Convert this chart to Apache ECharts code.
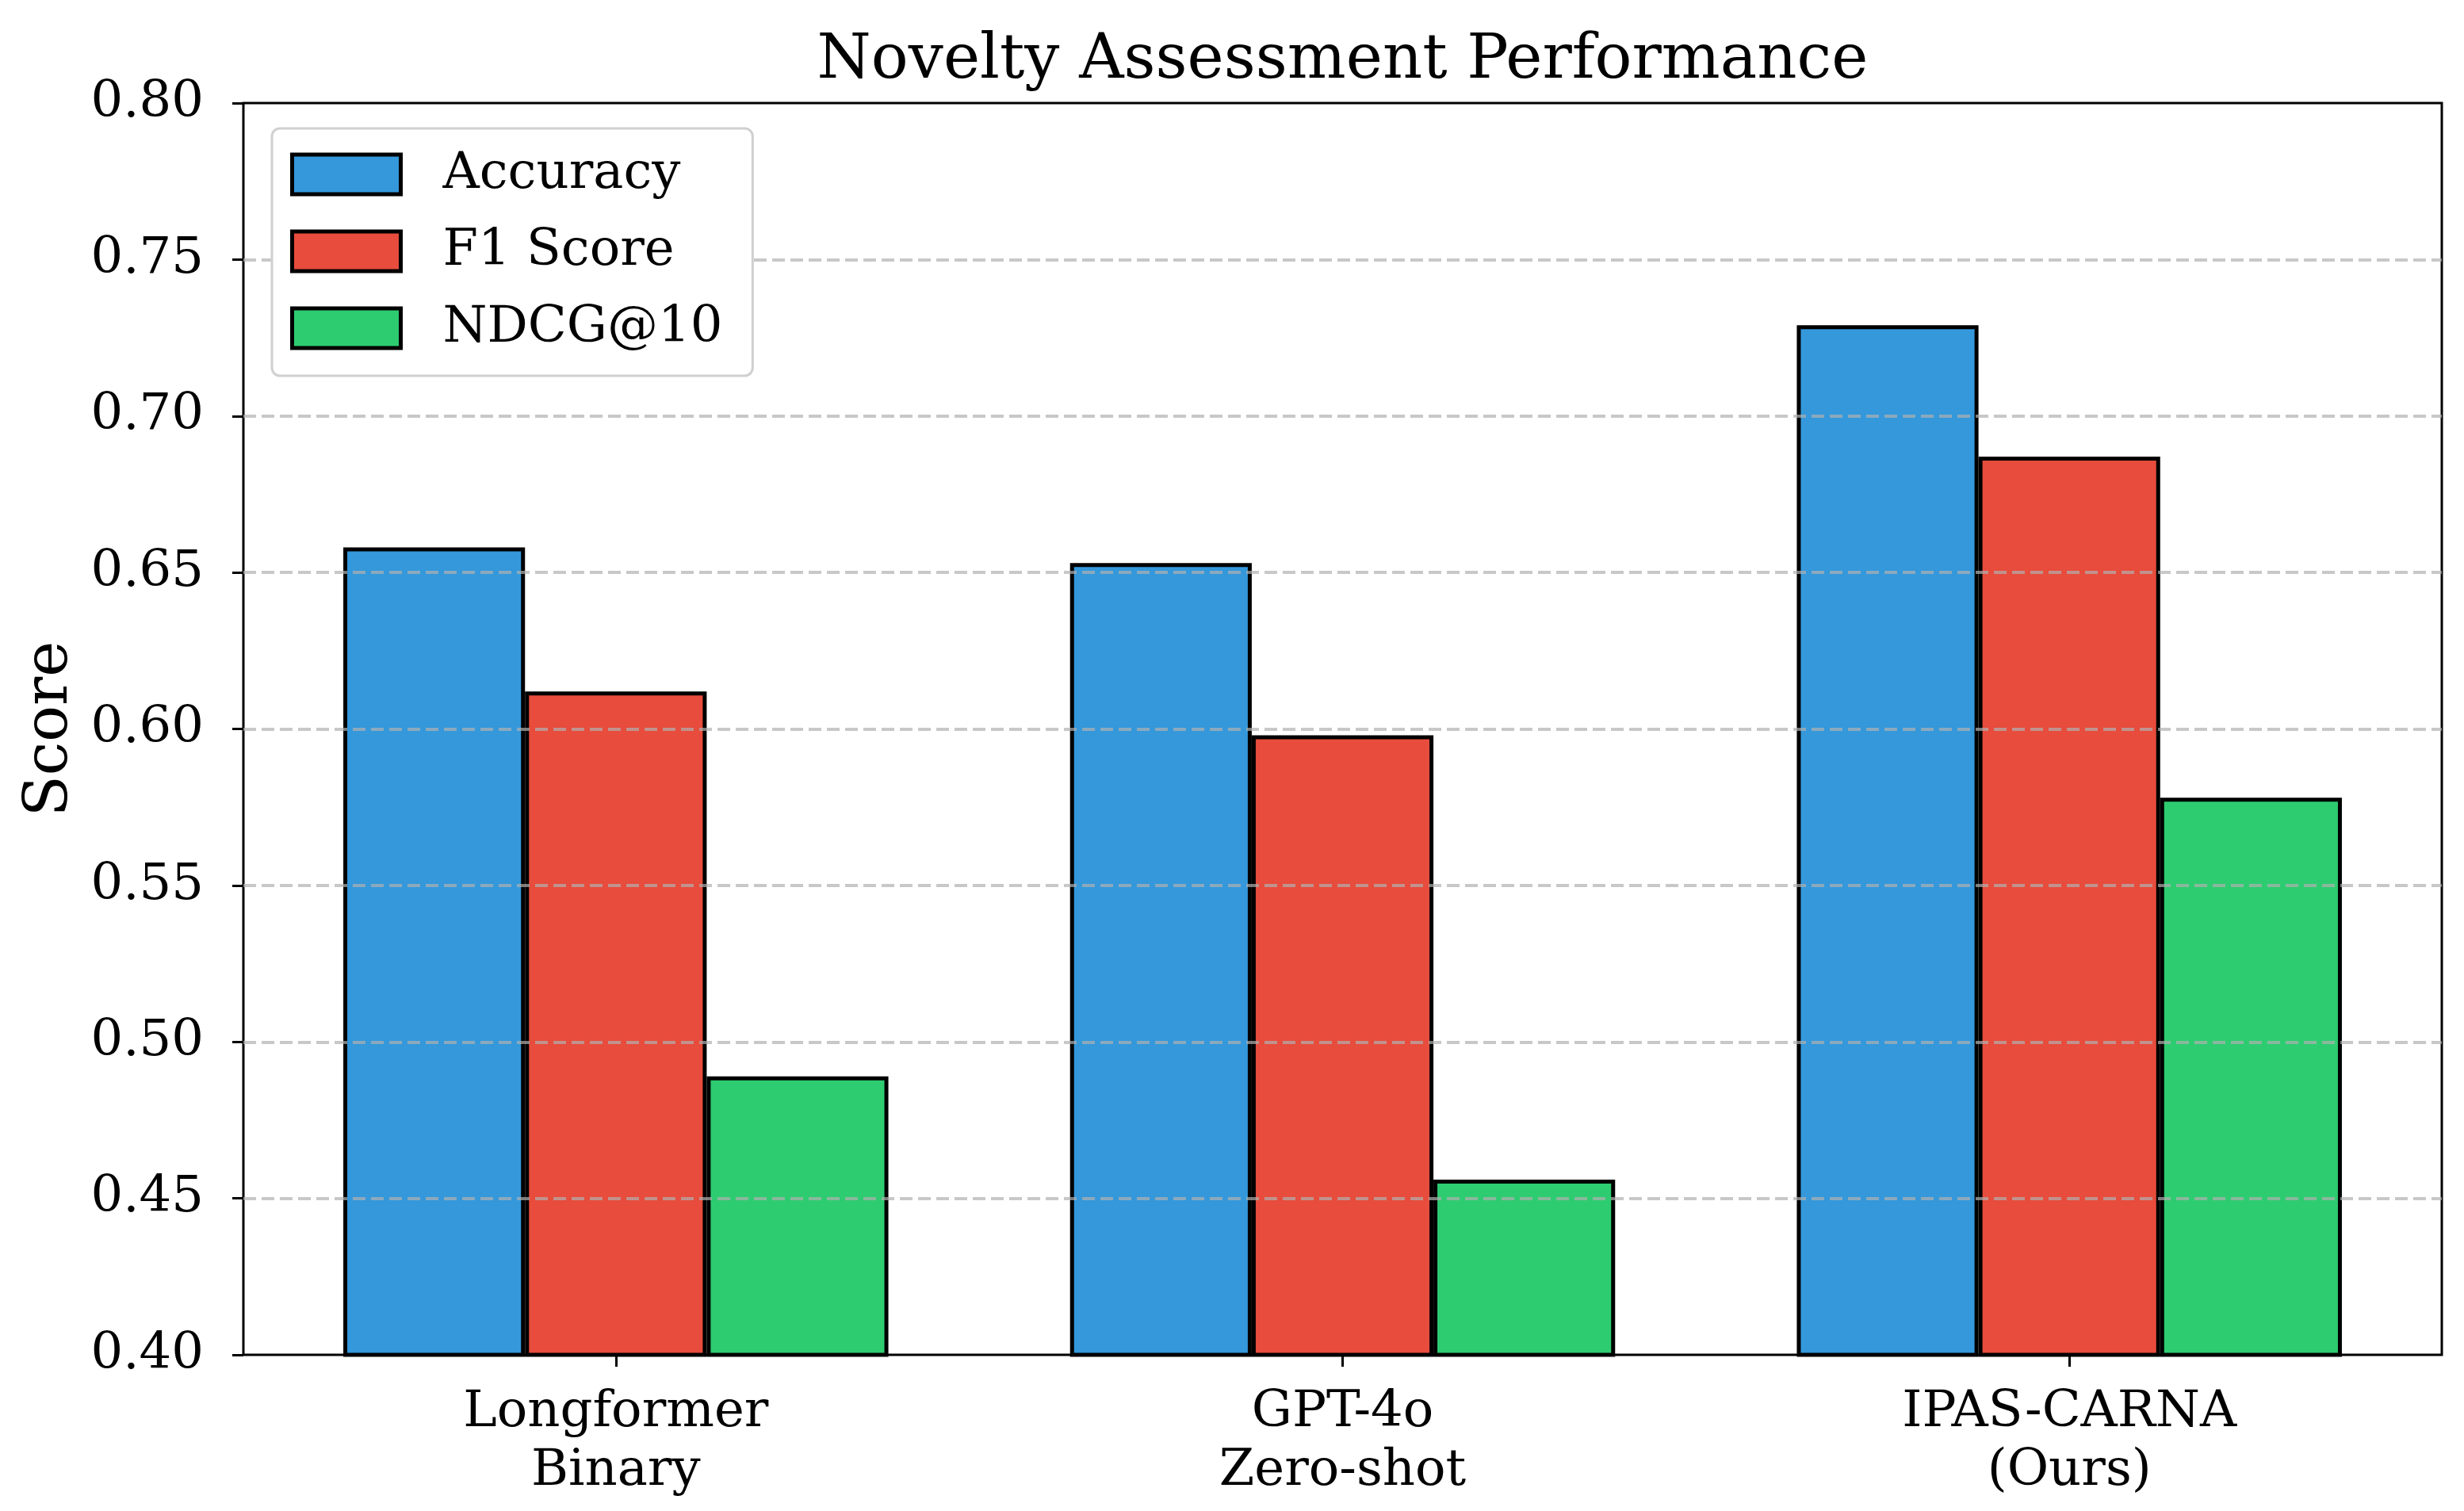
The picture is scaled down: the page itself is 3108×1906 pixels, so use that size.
<!DOCTYPE html>
<html>
<head>
<meta charset="utf-8">
<script src="https://cdn.jsdelivr.net/npm/echarts@6/dist/echarts.min.js"></script>
<style>
html,body{margin:0;padding:0;background:#fff;}
#chart{width:3108px;height:1906px;}
</style>
</head>
<body>
<div id="chart"></div>
<script>
const categories = ['Longformer\nBinary', 'GPT-4o\nZero-shot', 'IPAS-CARNA\n(Ours)'];
const seriesNames = ['Accuracy', 'F1 Score', 'NDCG@10'];
const accuracy = [0.658, 0.653, 0.729];
const f1Score = [0.612, 0.598, 0.687];
const ndcg10 = [0.489, 0.456, 0.578];
const yTicks = [0.40, 0.45, 0.50, 0.55, 0.60, 0.65, 0.70, 0.75, 0.80];
const colors = ['#3498db', '#e74c3c', '#2ecc71'];
const titleText = 'Novelty Assessment Performance';
const yName = 'Score';

const FONT = 'DejaVu Serif';
const frame = {left: 307, top: 130, width: 2773, height: 1579};
const unit = frame.width / 3.025;
const catLeft = frame.left + 0.5125 * unit - 0.5 * unit;

const chart = echarts.init(document.getElementById('chart'), null, {renderer: 'canvas'});
const values = [accuracy, f1Score, ndcg10];

chart.setOption({
  animation: false,
  backgroundColor: '#ffffff',
  graphic: [{
    type: 'text',
    x: frame.left + frame.width / 2,
    y: 78,
    style: {
      text: titleText,
      fontFamily: FONT,
      fontSize: 78,
      fill: '#000',
      textAlign: 'center',
      textVerticalAlign: 'middle'
    }
  }],
  grid: [
    {left: frame.left, top: frame.top, width: frame.width, height: frame.height,
     show: true, borderColor: '#000', borderWidth: 3, backgroundColor: 'transparent', z: 0},
    {left: catLeft, top: frame.top, width: 3 * unit, height: frame.height}
  ],
  legend: {
    show: true,
    orient: 'vertical',
    left: 343,
    top: 162,
    data: seriesNames,
    icon: 'rect',
    itemWidth: 137,
    itemHeight: 50,
    itemGap: 33,
    padding: [26, 38, 28, 23],
    backgroundColor: '#ffffff',
    borderColor: '#d0d0d0',
    borderWidth: 3,
    borderRadius: 10,
    z: 10,
    itemStyle: {borderColor: '#000', borderWidth: 5},
    textStyle: {fontFamily: FONT, fontSize: 64, color: '#000', padding: [0, 0, 0, 48]}
  },
  xAxis: [
    {type: 'value', gridIndex: 0, min: 0, max: 1, show: false},
    {
      type: 'category', gridIndex: 1, data: categories,
      axisLine: {show: false},
      axisTick: {show: true, alignWithLabel: true, length: 15, lineStyle: {color: '#000', width: 3}},
      axisLabel: {fontFamily: FONT, fontSize: 64, color: '#000', lineHeight: 74, margin: 36},
      splitLine: {show: false}
    }
  ],
  yAxis: [
    {
      type: 'value', gridIndex: 0, min: 0.4, max: 0.8, interval: 0.05, z: 3,
      name: yName, nameLocation: 'middle', nameGap: 205, nameRotate: 90,
      nameTextStyle: {fontFamily: FONT, fontSize: 76, color: '#000'},
      axisLine: {show: false},
      axisTick: {show: true, inside: false, length: 14, lineStyle: {color: '#000', width: 3}},
      axisLabel: {fontFamily: FONT, fontSize: 64, color: '#000', margin: 50,
        formatter: v => v.toFixed(2)},
      splitLine: {show: true, showMinLine: false, showMaxLine: false,
        lineStyle: {color: 'rgba(176,176,176,0.7)', width: 4, type: [16, 7]}}
    },
    {type: 'value', gridIndex: 1, min: 0.4, max: 0.8, show: false, splitLine: {show: false}}
  ],
  series: seriesNames.map((name, i) => ({
    name: name,
    type: 'bar',
    xAxisIndex: 1,
    yAxisIndex: 1,
    data: values[i],
    barWidth: 0.25 * unit,
    barGap: '0%',
    itemStyle: {color: colors[i], borderColor: '#000', borderWidth: 5},
    emphasis: {disabled: true}
  }))
});
</script>
</body>
</html>
